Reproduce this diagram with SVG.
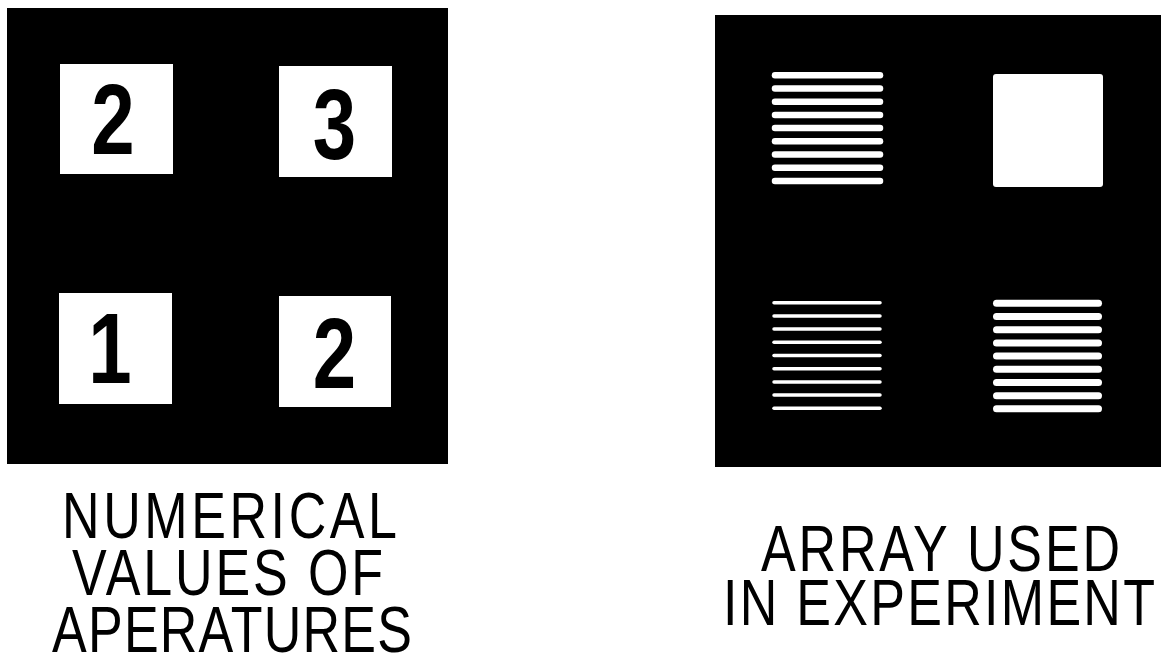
<svg xmlns="http://www.w3.org/2000/svg" width="1172" height="658" viewBox="0 0 1172 658">
<style>
.panel{fill:#000}
.ap{fill:#fff}
.digit{font-family:"Liberation Sans",Arial,sans-serif;font-weight:bold;font-size:100px;fill:#000;text-anchor:middle}
.cap{font-family:"Liberation Sans",Arial,sans-serif;font-size:65px;fill:#000}
.bar{stroke:#fff;stroke-linecap:round}
.thick{stroke-width:7}
.med{stroke-width:6.5}
.thin{stroke-width:3.5}
</style>
<rect width="1172" height="658" fill="#fff"/>
<g id="left-panel">
<rect class="panel" x="7" y="8" width="441" height="456"/>
<g id="ap-2-top">
<rect class="ap" x="60" y="64" width="113" height="110"/>
<text class="digit" transform="translate(113,154) scale(0.78,1)">2</text>
</g>
<g id="ap-3">
<rect class="ap" x="279" y="66" width="113" height="111"/>
<text class="digit" transform="translate(334.5,159) scale(0.78,1)">3</text>
</g>
<g id="ap-1">
<rect class="ap" x="59" y="293" width="113" height="111"/>
<text class="digit" transform="translate(110,383) scale(0.78,1)">1</text>
</g>
<g id="ap-2-bottom">
<rect class="ap" x="279" y="296" width="112" height="111"/>
<text class="digit" transform="translate(334.5,388) scale(0.78,1)">2</text>
</g>
</g>
<g id="left-caption" transform="scale(0.8,1)">
<text class="cap" x="77.5" y="538" textLength="418.75" lengthAdjust="spacing">NUMERICAL</text>
<text class="cap" x="90" y="595" textLength="388.75" lengthAdjust="spacing">VALUES OF</text>
<text class="cap" x="65" y="652" textLength="450" lengthAdjust="spacing">APERATURES</text>
</g>
<g id="right-panel">
<rect class="panel" x="715" y="15" width="446" height="452"/>
<g id="grating-top-left" class="bar med">
<line x1="775" y1="75.3" x2="880" y2="75.3"/>
<line x1="775" y1="88.5" x2="880" y2="88.5"/>
<line x1="775" y1="101.7" x2="880" y2="101.7"/>
<line x1="775" y1="114.9" x2="880" y2="114.9"/>
<line x1="775" y1="128.1" x2="880" y2="128.1"/>
<line x1="775" y1="141.3" x2="880" y2="141.3"/>
<line x1="775" y1="154.5" x2="880" y2="154.5"/>
<line x1="775" y1="167.7" x2="880" y2="167.7"/>
<line x1="775" y1="180.9" x2="880" y2="180.9"/>
</g>
<g id="open-square">
<rect class="ap" x="993" y="74" width="110" height="113" rx="3"/>
</g>
<g id="grating-bottom-left" class="bar thin">
<line x1="774" y1="302.7" x2="880" y2="302.7"/>
<line x1="774" y1="315.9" x2="880" y2="315.9"/>
<line x1="774" y1="329.1" x2="880" y2="329.1"/>
<line x1="774" y1="342.3" x2="880" y2="342.3"/>
<line x1="774" y1="355.5" x2="880" y2="355.5"/>
<line x1="774" y1="368.7" x2="880" y2="368.7"/>
<line x1="774" y1="381.9" x2="880" y2="381.9"/>
<line x1="774" y1="395.1" x2="880" y2="395.1"/>
<line x1="774" y1="408.3" x2="880" y2="408.3"/>
</g>
<g id="grating-bottom-right" class="bar thick">
<line x1="996.5" y1="303.3" x2="1098.5" y2="303.3"/>
<line x1="996.5" y1="316.5" x2="1098.5" y2="316.5"/>
<line x1="996.5" y1="329.7" x2="1098.5" y2="329.7"/>
<line x1="996.5" y1="342.9" x2="1098.5" y2="342.9"/>
<line x1="996.5" y1="356.1" x2="1098.5" y2="356.1"/>
<line x1="996.5" y1="369.3" x2="1098.5" y2="369.3"/>
<line x1="996.5" y1="382.5" x2="1098.5" y2="382.5"/>
<line x1="996.5" y1="395.7" x2="1098.5" y2="395.7"/>
<line x1="996.5" y1="408.7" x2="1098.5" y2="408.7"/>
</g>
</g>
<g id="right-caption" transform="scale(0.8,1)">
<text class="cap" x="951.25" y="571" textLength="448.75" lengthAdjust="spacing">ARRAY USED</text>
<text class="cap" x="903.75" y="625" textLength="540" lengthAdjust="spacing">IN EXPERIMENT</text>
</g>
</svg>
